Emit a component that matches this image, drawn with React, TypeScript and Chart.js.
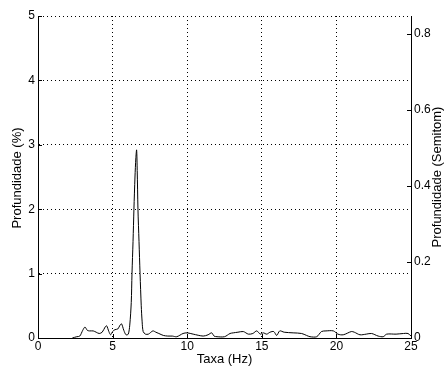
import React, { useEffect, useRef } from "react";
import { Chart, registerables } from "chart.js";

Chart.register(...registerables);

const RATE_HZ = [
  2.3, 2.6, 2.8, 3.0, 3.15, 3.3, 3.45, 3.7, 3.9, 4.1, 4.3, 4.5, 4.6, 4.75, 4.87, 5.0, 5.16, 5.35, 5.5, 5.6, 5.75, 5.9,
  6.05, 6.15, 6.25, 6.3, 6.37, 6.43, 6.5, 6.56, 6.61, 6.65, 6.7, 6.77, 6.84, 6.92, 6.98, 7.05, 7.2, 7.4, 7.7, 7.9,
  8.1, 8.4, 8.7, 9.0, 9.3, 9.72, 10.0, 10.4, 11.07, 11.4, 11.64, 11.8, 12.0, 12.5, 12.87, 13.09, 13.4, 13.76, 14.1,
  14.4, 14.66, 14.9, 15.1, 15.33, 15.55, 15.8, 16.0, 16.2, 16.5, 17.1, 17.67, 18.0, 18.23, 18.68, 19.0, 19.3, 19.8,
  20.1, 20.46, 21.0, 21.2, 21.58, 22.0, 22.36, 22.8, 23.14, 23.37, 24.0, 24.5, 24.8, 25.0,
];
const DEPTH_PCT = [
  0.0, 0.02, 0.03, 0.12, 0.17, 0.12, 0.11, 0.11, 0.09, 0.07, 0.09, 0.17, 0.19, 0.1, 0.05, 0.1, 0.13, 0.14, 0.2, 0.22, 0.12, 0.05,
  0.06, 0.2, 0.55, 1.0, 1.5, 2.0, 2.5, 2.8, 2.92, 2.6, 2.0, 1.5, 1.0, 0.5, 0.25, 0.1, 0.06, 0.06, 0.11, 0.09,
  0.07, 0.04, 0.03, 0.03, 0.02, 0.07, 0.08, 0.06, 0.03, 0.05, 0.08, 0.03, 0.02, 0.02, 0.07, 0.08, 0.09, 0.1, 0.06,
  0.07, 0.11, 0.06, 0.08, 0.06, 0.09, 0.1, 0.04, 0.11, 0.09, 0.08, 0.07, 0.04, 0.02, 0.02, 0.1, 0.11, 0.11,
  0.06, 0.05, 0.1, 0.09, 0.05, 0.06, 0.07, 0.03, 0.02, 0.06, 0.06, 0.07, 0.07, 0.03,
];
const X_TICKS = [0, 5, 10, 15, 20, 25];
const LEFT_TICKS = [0, 1, 2, 3, 4, 5];
const RIGHT_TICKS = [0, 0.2, 0.4, 0.6, 0.8];
const RIGHT_MAX = 0.847;
const X_TITLE = "Taxa (Hz)";
const LEFT_TITLE = "Profundidade (%)";
const RIGHT_TITLE = "Profundidade (Semitom)";

const FONT = "Liberation Sans, Arial, sans-serif";

export default function App() {
  const ref = useRef<HTMLCanvasElement>(null);
  useEffect(() => {
    const canvas = ref.current!;
    const titlesPlugin = {
      id: "titlesAndTicks",
      afterDraw(chart: any) {
        const ctx = chart.ctx;
        const area = chart.chartArea;
        const x = chart.scales.x;
        const yl = chart.scales.y;
        const yr = chart.scales.y2;
        ctx.save();
        // inward tick marks
        ctx.strokeStyle = "#000";
        ctx.lineWidth = 1;
        ctx.beginPath();
        const TL = 4;
        X_TICKS.forEach((v) => {
          const px = Math.round(x.getPixelForValue(v)) + 0.5;
          ctx.moveTo(px, area.bottom);
          ctx.lineTo(px, area.bottom - TL);
        });
        LEFT_TICKS.forEach((v) => {
          const py = Math.round(yl.getPixelForValue(v)) + 0.5;
          ctx.moveTo(area.left, py);
          ctx.lineTo(area.left + TL, py);
        });
        RIGHT_TICKS.forEach((v) => {
          const py = Math.round(yr.getPixelForValue(v)) + 0.5;
          ctx.moveTo(area.right, py);
          ctx.lineTo(area.right - TL, py);
        });
        ctx.stroke();
        // titles
        ctx.fillStyle = "#000";
        ctx.font = `13px ${FONT}`;
        ctx.textAlign = "center";
        ctx.textBaseline = "middle";
        ctx.fillText(X_TITLE, (area.left + area.right) / 2, 359);
        ctx.translate(17, 178);
        ctx.rotate(-Math.PI / 2);
        ctx.fillText(LEFT_TITLE, 0, 0);
        ctx.restore();
        ctx.save();
        ctx.fillStyle = "#000";
        ctx.font = `13px ${FONT}`;
        ctx.textAlign = "center";
        ctx.textBaseline = "middle";
        ctx.translate(437, 177);
        ctx.rotate(-Math.PI / 2);
        ctx.fillText(RIGHT_TITLE, 0, 0);
        ctx.restore();
      },
    };

    const chart = new Chart(canvas, {
      type: "line",
      data: {
        datasets: [
          {
            data: RATE_HZ.map((r, i) => ({ x: r, y: DEPTH_PCT[i] })),
            borderColor: "#000",
            borderWidth: 1,
            pointRadius: 0,
            tension: 0.3,
            fill: false,
            yAxisID: "y",
          },
        ],
      },
      options: {
        responsive: false,
        maintainAspectRatio: false,
        animation: false,
        devicePixelRatio: 1,
        layout: { padding: { top: 16, left: 0, right: 0, bottom: 0 } },
        plugins: { legend: { display: false }, tooltip: { enabled: false } },
        scales: {
          x: {
            type: "linear",
            position: "bottom",
            min: 0,
            max: 25,
            afterBuildTicks: (s: any) => {
              s.ticks = X_TICKS.map((v) => ({ value: v }));
            },
            afterFit: (s: any) => {
              s.height = 35;
            },
            ticks: { color: "#000", font: { family: FONT, size: 12 }, padding: 1, maxRotation: 0, autoSkip: false },
            grid: { color: "#000", lineWidth: 1, drawTicks: false },
            border: { display: true, color: "#000", width: 1, dash: [1, 3] },
          },
          y: {
            type: "linear",
            position: "left",
            min: 0,
            max: 5,
            afterBuildTicks: (s: any) => {
              s.ticks = LEFT_TICKS.map((v) => ({ value: v }));
            },
            afterFit: (s: any) => {
              s.width = 38;
            },
            ticks: { color: "#000", font: { family: FONT, size: 12 }, padding: 3 },
            grid: { color: "#000", lineWidth: 1, drawTicks: false },
            border: { display: true, color: "#000", width: 1, dash: [1, 3] },
          },
          y2: {
            type: "linear",
            position: "right",
            min: 0,
            max: RIGHT_MAX,
            afterBuildTicks: (s: any) => {
              s.ticks = RIGHT_TICKS.map((v) => ({ value: v }));
            },
            afterFit: (s: any) => {
              s.width = 37;
            },
            ticks: {
              color: "#000",
              font: { family: FONT, size: 12 },
              padding: 3,
              callback: (v: any) => (v === 0 ? "0" : Number(v).toFixed(1)),
            },
            grid: { drawOnChartArea: false, drawTicks: false },
            border: { display: true, color: "#000", width: 1 },
          },
        },
      },
      plugins: [titlesPlugin],
    } as any);
    return () => chart.destroy();
  }, []);
  return (
    <div style={{ position: "absolute", left: 0, top: 0, width: 448, height: 373, background: "#fff" }}>
      <canvas ref={ref} width={448} height={373} style={{ display: "block" }} />
    </div>
  );
}
